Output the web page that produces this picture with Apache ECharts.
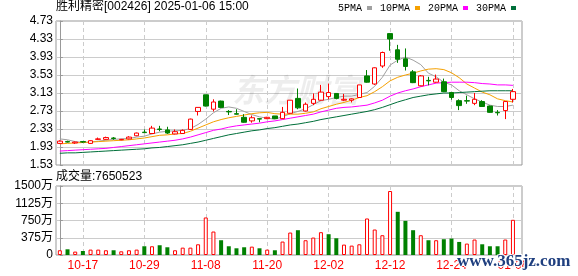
<!DOCTYPE html>
<html><head><meta charset="utf-8">
<script src="https://cdn.jsdelivr.net/npm/echarts@6/dist/echarts.min.js"></script>
<style>html,body{margin:0;padding:0;background:#fff}#c{width:578px;height:276px}</style>
</head><body><div id="c"></div>
<script>
const titleText = '胜利精密[002426] 2025-01-06 15:00';
const lastVolumeShares = 7650523;
const dates = ['10-14','10-15','10-16','10-17','10-18','10-21','10-22','10-23','10-24','10-25',
 '10-28','10-29','10-30','10-31','11-01','11-04','11-05','11-06','11-07','11-08',
 '11-11','11-12','11-13','11-14','11-15','11-18','11-19','11-20','11-21','11-22',
 '11-25','11-26','11-27','11-28','11-29','12-02','12-03','12-04','12-05','12-06',
 '12-09','12-10','12-11','12-12','12-13','12-16','12-17','12-18','12-19','12-20',
 '12-23','12-24','12-25','12-26','12-27','12-30','12-31','01-02','01-03','01-06'];
const labelIdx = [3,11,19,27,35,43,51,59];
const opens = [2.01,2.05,2.02,2.05,2.01,2.10,2.10,2.13,2.09,2.11,
 2.18,2.26,2.23,2.33,2.31,2.22,2.23,2.32,2.72,3.09,
 2.77,2.95,2.72,2.67,2.59,2.51,2.56,2.56,2.62,2.56,
 2.68,3.01,2.73,2.90,2.97,3.05,3.12,2.97,2.97,3.03,
 3.51,3.33,3.73,4.45,4.09,3.89,3.60,3.29,3.41,3.37,
 3.38,3.14,2.96,2.96,2.90,2.94,2.84,2.70,2.74,2.99];
const closes = [2.06,2.04,2.04,2.04,2.07,2.11,2.14,2.12,2.10,2.15,
 2.24,2.25,2.35,2.32,2.24,2.27,2.30,2.55,2.81,2.84,
 2.93,2.81,2.71,2.66,2.48,2.58,2.55,2.59,2.56,2.70,
 2.97,2.80,2.88,2.99,3.15,3.14,3.01,2.99,3.00,3.31,
 3.37,3.69,4.03,4.33,3.88,3.72,3.36,3.51,3.40,3.44,
 3.16,3.03,2.85,2.95,2.99,2.83,2.70,2.69,2.94,3.16];
const lows = [2.00,2.03,2.00,2.02,2.00,2.09,2.09,2.09,2.08,2.10,
 2.17,2.24,2.22,2.28,2.22,2.21,2.22,2.31,2.63,2.83,
 2.72,2.80,2.64,2.65,2.47,2.47,2.48,2.55,2.55,2.55,
 2.67,2.77,2.72,2.86,2.96,2.99,2.99,2.95,2.92,3.02,
 3.36,3.31,3.69,4.07,3.80,3.63,3.35,3.28,3.30,3.36,
 3.15,2.98,2.75,2.89,2.86,2.82,2.69,2.63,2.55,2.92];
const highs = [2.08,2.07,2.05,2.06,2.08,2.14,2.16,2.15,2.11,2.17,
 2.25,2.32,2.40,2.40,2.38,2.32,2.32,2.56,2.81,3.09,
 2.99,2.96,2.75,2.77,2.66,2.63,2.56,2.60,2.62,2.82,
 2.97,3.23,2.92,3.12,3.31,3.34,3.13,3.11,3.01,3.31,
 3.64,3.70,4.05,4.46,4.20,4.12,3.64,3.53,3.49,3.54,
 3.45,3.14,2.99,3.07,3.13,2.97,2.85,2.75,2.95,3.22];
const volumes = [103,124,74,87,117,117,103,103,80,103,
 117,190,190,212,168,103,160,160,233,816,
 510,321,190,146,168,182,146,117,103,292,
 488,539,321,379,496,452,364,226,204,233,
 794,554,430,1391,939,742,539,430,321,321,
 343,357,284,248,336,233,190,190,336,765];
const volumeUp = [1,0,1,0,1,1,1,0,1,1, 1,0,1,0,0,1,1,1,1,1,
 1,0,0,0,0,1,0,1,0,1, 1,0,1,1,1,0,0,1,1,1,
 1,1,1,1,0,0,0,1,0,1, 0,0,0,1,1,0,0,0,1,1];
const ma5 = [2.11,2.09,2.05,2.03,2.04,2.06,2.08,2.10,2.11,2.12,
 2.15,2.17,2.22,2.26,2.28,2.29,2.30,2.34,2.43,2.55,
 2.69,2.79,2.82,2.79,2.72,2.65,2.60,2.57,2.55,2.60,
 2.67,2.72,2.78,2.87,2.96,2.99,3.03,3.06,3.06,3.10,
 3.14,3.28,3.48,3.75,3.86,3.93,3.86,3.76,3.57,3.49,
 3.37,3.31,3.18,3.09,3.00,2.93,2.86,2.83,2.83,2.86];
const ma10 = [2.00,2.01,2.02,2.03,2.04,2.05,2.06,2.07,2.08,2.09,
 2.11,2.13,2.16,2.19,2.20,2.22,2.23,2.28,2.35,2.42,
 2.49,2.54,2.58,2.61,2.64,2.67,2.69,2.70,2.67,2.66,
 2.66,2.66,2.68,2.71,2.78,2.83,2.88,2.92,2.97,3.03,
 3.07,3.16,3.27,3.40,3.48,3.53,3.57,3.62,3.66,3.67,
 3.65,3.58,3.47,3.33,3.24,3.15,3.09,3.00,2.96,2.93];
const ma20 = [1.84,1.85,1.86,1.87,1.88,1.89,1.90,1.92,1.94,1.96,
 1.98,2.00,2.02,2.04,2.06,2.08,2.11,2.15,2.20,2.25,
 2.30,2.33,2.37,2.40,2.42,2.44,2.46,2.49,2.51,2.54,
 2.57,2.60,2.63,2.66,2.71,2.75,2.79,2.81,2.82,2.84,
 2.86,2.91,2.97,3.06,3.13,3.18,3.22,3.27,3.31,3.35,
 3.36,3.37,3.37,3.37,3.36,3.34,3.33,3.31,3.31,3.30];
const ma30 = [1.79,1.80,1.80,1.81,1.82,1.83,1.84,1.85,1.86,1.87,
 1.88,1.89,1.91,1.92,1.94,1.96,1.98,2.01,2.04,2.08,
 2.12,2.16,2.20,2.23,2.26,2.29,2.31,2.34,2.36,2.39,
 2.42,2.44,2.47,2.50,2.54,2.57,2.60,2.63,2.66,2.69,
 2.72,2.76,2.81,2.87,2.93,2.98,3.03,3.06,3.09,3.11,
 3.13,3.13,3.14,3.15,3.16,3.17,3.18,3.18,3.18,3.18];

const UI = "'Liberation Sans','Noto Sans CJK SC',sans-serif";
const RED = '#ff0000', GREEN = '#008000';
const candleData = dates.map((d, i) => [i, opens[i], closes[i], lows[i], highs[i]]);
const volData = volumes.map((v, i) => ({
  value: [i, v],
  itemStyle: volumeUp[i] ? {color: '#ffffff', borderColor: RED, borderWidth: 1}
                         : {color: GREEN, borderColor: GREEN, borderWidth: 0}
}));
function maSeries(name, arr, color) {
  return {name, type: 'line', xAxisIndex: 0, yAxisIndex: 0, data: arr.map((v, i) => [i, v]),
    symbol: 'none', showSymbol: false, silent: true, z: 3,
    lineStyle: {width: 1, color}, itemStyle: {color}};
}
const xBase = {type: 'value', min: -0.5, max: 60.18,
  axisLine: {show: false},
  axisTick: {show: false, customValues: labelIdx},
  splitLine: {show: true, lineStyle: {color: '#cccccc', type: [4, 3], width: 1}}};

const chart = echarts.init(document.getElementById('c'), null, {renderer: 'canvas'});
chart.setOption({
  animation: false,
  backgroundColor: '#ffffff',
  title: [
    {text: titleText, left: 56, top: 1, padding: 0, textStyle: {fontSize: 12, fontWeight: 'normal', color: '#000', fontFamily: UI}},
    {text: '成交量:' + lastVolumeShares, left: 56, top: 171, padding: 0, textStyle: {fontSize: 12, fontWeight: 'normal', color: '#000', fontFamily: UI}}
  ],
  legend: {data: ['5PMA', '10PMA', '20PMA', '30PMA'], left: 338, top: 3, padding: 0,
    align: 'right', icon: 'rect', itemWidth: 5, itemHeight: 4, itemGap: 8, selectedMode: false,
    textStyle: {fontFamily: "'Liberation Mono',monospace", fontSize: 10, color: '#000'}},
  grid: [
    {left: 56, top: 21, width: 466, height: 144, show: true, borderColor: '#999', borderWidth: 1, backgroundColor: 'transparent'},
    {left: 56, top: 186, width: 466, height: 69, show: true, borderColor: '#999', borderWidth: 1, backgroundColor: 'transparent'}
  ],
  xAxis: [
    Object.assign({}, xBase, {gridIndex: 0, axisLabel: {show: false, customValues: labelIdx}}),
    Object.assign({}, xBase, {gridIndex: 1, axisLabel: {show: true, customValues: labelIdx,
      formatter: v => dates[Math.round(v)], color: RED, fontSize: 12, fontFamily: UI, margin: 5}})
  ],
  yAxis: [
    {type: 'value', gridIndex: 0, min: 1.53, max: 4.73, interval: 0.4,
      axisLine: {show: true, lineStyle: {color: '#999'}},
      axisTick: {show: true, inside: true, length: 3, lineStyle: {color: '#999'}},
      axisLabel: {formatter: v => v.toFixed(2), color: '#000', fontSize: 12, fontFamily: UI, margin: 3},
      splitLine: {show: true, lineStyle: {color: '#cccccc', width: 1}}},
    {type: 'value', gridIndex: 1, min: 0, max: 1500, interval: 375,
      axisLine: {show: true, lineStyle: {color: '#999'}},
      axisTick: {show: true, inside: true, length: 3, lineStyle: {color: '#999'}},
      axisLabel: {formatter: v => v === 0 ? '0' : v + '万', color: '#000', fontSize: 12, fontFamily: UI, margin: 3},
      splitLine: {show: true, lineStyle: {color: '#cccccc', width: 1}}}
  ],
  graphic: [
    {type: 'text', left: 232, top: 74, z: 1, silent: true,
      style: {text: '东方财富', font: "italic bold 32px 'Noto Sans CJK SC'", fill: 'rgba(0,0,0,0.07)'}},
    {type: 'text', left: 456, top: 252, z: 100, silent: true,
      style: {text: 'www.365jz.com', font: "bold 17px 'Liberation Serif'", fill: '#1f3f7f', stroke: '#ffffff', lineWidth: 2}}
  ],
  series: [
    maSeries('5PMA', ma5, '#a0a0a0'),
    maSeries('10PMA', ma10, '#f5a000'),
    maSeries('20PMA', ma20, '#ff00ff'),
    maSeries('30PMA', ma30, '#006f3a'),
    {name: 'K', type: 'candlestick', xAxisIndex: 0, yAxisIndex: 0, data: candleData, barWidth: 5, z: 4,
      itemStyle: {color: '#ffffff', color0: GREEN, borderColor: RED, borderColor0: GREEN, borderWidth: 1}},
    {name: 'VOL', type: 'bar', xAxisIndex: 1, yAxisIndex: 1, data: volData, barWidth: 4}
  ]
});
</script></body></html>
